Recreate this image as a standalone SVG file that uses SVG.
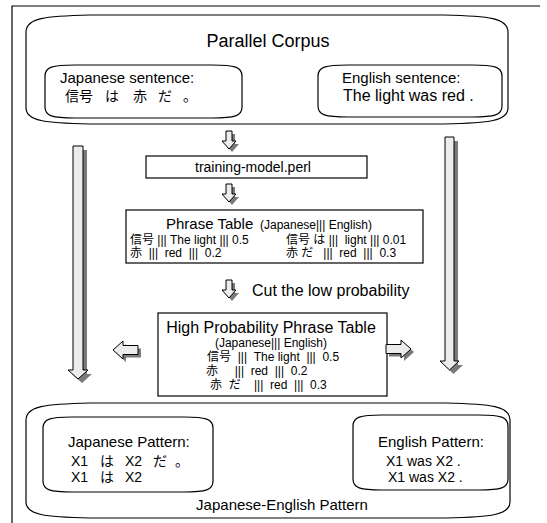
<svg xmlns="http://www.w3.org/2000/svg" width="547" height="523" viewBox="0 0 547 523">
<style>
.box{fill:#fff;stroke:#000;stroke-width:1.2}
.arr{fill:#ececec;stroke:#000;stroke-width:1}
.sh{fill:#7a7a7a}
text{font-family:"Liberation Sans","Noto Sans CJK JP",Arial,sans-serif;fill:#000;white-space:pre}
.t18{font-size:18px}.t16{font-size:16px}.t15{font-size:15px}.t14{font-size:14px}.t12{font-size:12px}.t11{font-size:11px}
</style>
<defs>
<path id="dn" d="M4,0 H10 V10 H14 L7,18 L0,10 H4 Z"/>
<path id="lf" d="M0,0 L10,-9 V-4.5 H25 V4.5 H10 V9 Z"/>
<path id="rt" d="M0,0 L-10,-9 V-4.5 H-25 V4.5 H-10 V9 Z"/>
</defs>
<rect width="547" height="523" fill="#fff"/>
<path d="M12,523 V6 H540" fill="none" stroke="#000" stroke-width="1.2"/>

<g id="parallel-corpus">
<path class="box" d="M26,32 C26,18 45,16 90,15 L444,15 C489,16 508,18 508,32 L508,108 C508,121 489,123 444,124 L90,124 C45,123 26,121 26,108 Z"/>
<text class="t18" x="268" y="47" text-anchor="middle">Parallel Corpus</text>
</g>
<g id="japanese-sentence">
<path class="box" d="M45,76 C45,67 52,65 75,65 L212,65 C235,65 242,67 242,76 L242,107 C242,116 235,118 212,118 L75,118 C52,118 45,116 45,107 Z"/>
<text class="t15" x="60" y="83">Japanese sentence:</text>
<text class="t14" y="101"><tspan x="65">信号</tspan><tspan x="105">は</tspan><tspan x="133">赤</tspan><tspan x="158">だ</tspan><tspan x="183">。</tspan></text>
</g>
<g id="english-sentence">
<path class="box" d="M318,76 C318,67 325,65 348,65 L472,65 C495,65 502,67 502,76 L502,106 C502,115 495,117 472,117 L348,117 C325,117 318,115 318,106 Z"/>
<text class="t15" x="342" y="83">English sentence:</text>
<text class="t16" x="343" y="101">The light was red .</text>
</g>

<g id="training-model">
<rect class="box" x="146" y="156" width="221" height="22"/>
<text class="t14" x="253" y="172" text-anchor="middle">training-model.perl</text>
</g>

<g id="phrase-table">
<rect class="box" x="126" y="210" width="297" height="53"/>
<text x="166" y="229"><tspan class="t15">Phrase Table</tspan><tspan class="t12">  (Japanese||| English)</tspan></text>
<text class="t12" x="130" y="244">信号 ||| The light ||| 0.5</text>
<text class="t12" x="286" y="244">信号 は |||  light ||| 0.01</text>
<text class="t12" x="130" y="257">赤  |||  red  |||  0.2</text>
<text class="t12" x="286" y="257">赤 だ   |||  red  |||  0.3</text>
</g>

<g id="cut-label">
<text class="t16" x="252" y="296">Cut the low probability</text>
</g>

<g id="high-probability-table">
<rect class="box" x="158" y="313" width="229" height="83"/>
<text class="t16" x="271" y="333" text-anchor="middle">High Probability Phrase Table</text>
<text class="t12" x="271" y="347" text-anchor="middle">(Japanese||| English)</text>
<text class="t12" x="207" y="361">信号  |||  The light  |||  0.5</text>
<text class="t12" x="206" y="375">赤     |||  red  |||  0.2</text>
<text class="t12" x="210" y="389">赤  だ    |||  red  |||  0.3</text>
</g>

<g id="japanese-english-pattern">
<path class="box" d="M26,420 C26,406 45,404 90,403 L446,403 C491,404 510,406 510,420 L510,502 C510,515 491,517 446,518 L90,518 C45,517 26,515 26,502 Z"/>
<text class="t15" x="282" y="510" text-anchor="middle">Japanese-English Pattern</text>
</g>
<g id="japanese-pattern">
<path class="box" d="M43,428 C43,419 50,417 72,417 L184,417 C206,417 213,419 213,428 L213,481 C213,490 206,492 184,492 L72,492 C50,492 43,490 43,481 Z"/>
<text class="t15" x="68" y="447">Japanese Pattern:</text>
<text class="t14" y="466"><tspan x="71">X1</tspan><tspan x="100">は</tspan><tspan x="125">X2</tspan><tspan x="153">だ</tspan><tspan x="175">。</tspan></text>
<text class="t14" y="482"><tspan x="71">X1</tspan><tspan x="100">は</tspan><tspan x="125">X2</tspan></text>
</g>
<g id="english-pattern">
<path class="box" d="M353,426 C353,417 360,415 382,415 L479,415 C501,415 508,417 508,426 L508,479 C508,488 501,490 479,490 L382,490 C360,490 353,488 353,479 Z"/>
<text class="t15" x="378" y="447">English Pattern:</text>
<text class="t14" x="386" y="466">X1 was X2 .</text>
<text class="t14" x="388" y="482">X1 was X2 .</text>
</g>

<g id="connectors">
<g transform="translate(222,131)"><use href="#dn" class="sh" x="3" y="3"/><use href="#dn" class="arr"/></g>
<g transform="translate(222,184)"><use href="#dn" class="sh" x="3" y="3"/><use href="#dn" class="arr"/></g>
<g transform="translate(222,280)"><use href="#dn" class="sh" x="3" y="3"/><use href="#dn" class="arr"/></g>
<g transform="translate(113,350)"><use href="#lf" class="sh" x="3" y="3"/><use href="#lf" class="arr"/></g>
<g transform="translate(411,349)"><use href="#rt" class="sh" x="3" y="3"/><use href="#rt" class="arr"/></g>
<path class="sh" d="M77,150 H87 V374 H92 L82,383 L72,374 H77 Z"/>
<path class="arr" d="M73,146 H83 V370 H88 L78,379 L68,370 H73 Z"/>
<path class="sh" d="M449,141 H458 V365 H463 L453.5,374 L444,365 H449 Z"/>
<path class="arr" d="M445,137 H454 V361 H459 L449.5,370 L440,361 H445 Z"/>
</g>
</svg>
